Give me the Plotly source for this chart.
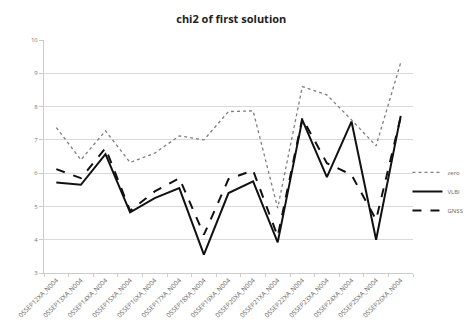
import plotly.graph_objects as go

categories = [f"05SEP{d}XA_N004" for d in range(12, 27)]
zero = [7.37, 6.4, 7.27, 6.32, 6.6, 7.12, 7.0, 7.85, 7.87, 4.95, 8.6, 8.35, 7.6, 6.82, 9.32]
vlbi = [5.72, 5.65, 6.57, 4.82, 5.25, 5.55, 3.55, 5.4, 5.75, 3.92, 7.6, 5.88, 7.55, 4.0, 7.72]
gnss = [6.12, 5.85, 6.75, 4.87, 5.45, 5.85, 4.15, 5.82, 6.08, 4.1, 7.65, 6.3, 5.95, 4.6, 7.68]

fig = go.Figure()
fig.add_trace(go.Scatter(x=categories, y=zero, name="zero", mode="lines",
                         line=dict(color="#7f7f7f", width=1.3, dash="dot")))
fig.add_trace(go.Scatter(x=categories, y=vlbi, name="VLBI", mode="lines",
                         line=dict(color="#111111", width=2)))
fig.add_trace(go.Scatter(x=categories, y=gnss, name="GNSS", mode="lines",
                         line=dict(color="#111111", width=2, dash="dash")))

fig.update_layout(
    width=472, height=334,
    margin=dict(l=44, r=59, t=40, b=61, autoexpand=False),
    paper_bgcolor="white", plot_bgcolor="white",
    font=dict(family="Open Sans, Liberation Sans, sans-serif", color="#666666", size=6),
    title=dict(text="<b>chi2 of first solution</b>", x=0.49, xanchor="center", y=0.943, yanchor="middle",
               font=dict(size=11, color="#222222")),
    showlegend=True,
    legend=dict(x=0.985, xanchor="left", y=0.35, yanchor="middle",
                font=dict(size=6, color="#666666"),
                itemwidth=30, bgcolor="rgba(0,0,0,0)"),
    xaxis=dict(type="category", range=[-0.5, 14.5], tickangle=-45, tickson="boundaries",
               ticks="outside", ticklen=3, tickcolor="#cccccc", automargin=False,
               showline=True, linecolor="#cccccc", linewidth=1, showgrid=False,
               tickfont=dict(size=6.5, color="#666666")),
    yaxis=dict(range=[3, 10], dtick=1, showgrid=True, gridcolor="#d9d9d9", gridwidth=1,
               ticks="outside", ticklen=4, tickcolor="#cccccc", automargin=False,
               showline=True, linecolor="#cccccc", linewidth=1, zeroline=False,
               tickfont=dict(size=6, color="#777777")),
)

fig.write_html("out.html", config={"displayModeBar": False},
               post_script="document.body.style.margin='0';document.body.style.overflow='hidden';")
